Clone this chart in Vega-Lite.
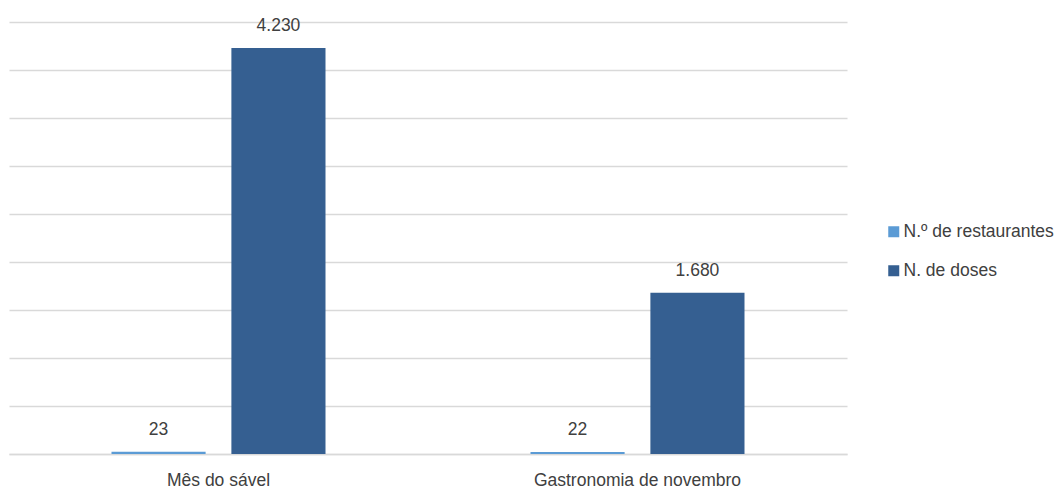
{
  "$schema": "https://vega.github.io/schema/vega-lite/v6.json",
  "autosize": "none",
  "width": 838,
  "height": 432,
  "padding": {"left": 9, "top": 22, "right": 209, "bottom": 35},
  "background": "#ffffff",
  "data": {
    "values": [
      {"evento": "Mês do sável", "serie": "N.º de restaurantes", "valor": 23},
      {"evento": "Mês do sável", "serie": "N. de doses", "valor": 4230},
      {"evento": "Gastronomia de novembro", "serie": "N.º de restaurantes", "valor": 22},
      {"evento": "Gastronomia de novembro", "serie": "N. de doses", "valor": 1680}
    ]
  },
  "encoding": {
    "x": {
      "field": "evento",
      "type": "nominal",
      "sort": null,
      "scale": {"paddingInner": 0, "paddingOuter": 0},
      "axis": {
        "title": null,
        "labelAngle": 0,
        "labelLimit": 0,
        "ticks": false,
        "domainColor": "#D9D9D9",
        "domainWidth": 1.5,
        "labelPadding": 17,
        "labelFont": "Liberation Sans",
        "labelFontSize": 17.5,
        "labelColor": "#404040"
      }
    },
    "xOffset": {
      "field": "serie",
      "type": "nominal",
      "sort": ["N.º de restaurantes", "N. de doses"],
      "scale": {"paddingInner": 0.215, "paddingOuter": 0.855}
    },
    "y": {
      "field": "valor",
      "type": "quantitative",
      "scale": {"domain": [0, 4500], "nice": false},
      "axis": {
        "title": null,
        "labels": false,
        "ticks": false,
        "domain": false,
        "values": [0, 500, 1000, 1500, 2000, 2500, 3000, 3500, 4000, 4500],
        "gridColor": "#D9D9D9",
        "gridWidth": 1.5
      }
    }
  },
  "layer": [
    {
      "mark": {"type": "bar"},
      "encoding": {
        "color": {
          "field": "serie",
          "type": "nominal",
          "scale": {
            "domain": ["N.º de restaurantes", "N. de doses"],
            "range": ["#5B9BD5", "#355F91"]
          },
          "legend": {
            "title": null,
            "orient": "none",
            "legendX": 876,
            "legendY": 201,
            "symbolType": "square",
            "symbolSize": 121,
            "symbolStrokeWidth": 0,
            "labelFont": "Liberation Sans",
            "labelFontSize": 17.5,
            "labelLimit": 0,
            "labelColor": "#404040",
            "labelOffset": 1,
            "rowPadding": 20,
            "padding": 0
          }
        }
      }
    },
    {
      "mark": {
        "type": "text",
        "align": "center",
        "baseline": "alphabetic",
        "dy": -17,
        "font": "Liberation Sans",
        "fontSize": 17.5,
        "color": "#404040"
      },
      "encoding": {
        "text": {"field": "valor", "type": "quantitative", "format": ",d"}
      }
    }
  ],
  "config": {
    "view": {"stroke": null},
    "locale": {
      "number": {
        "decimal": ",",
        "thousands": ".",
        "grouping": [3],
        "currency": ["", " €"]
      }
    }
  }
}
